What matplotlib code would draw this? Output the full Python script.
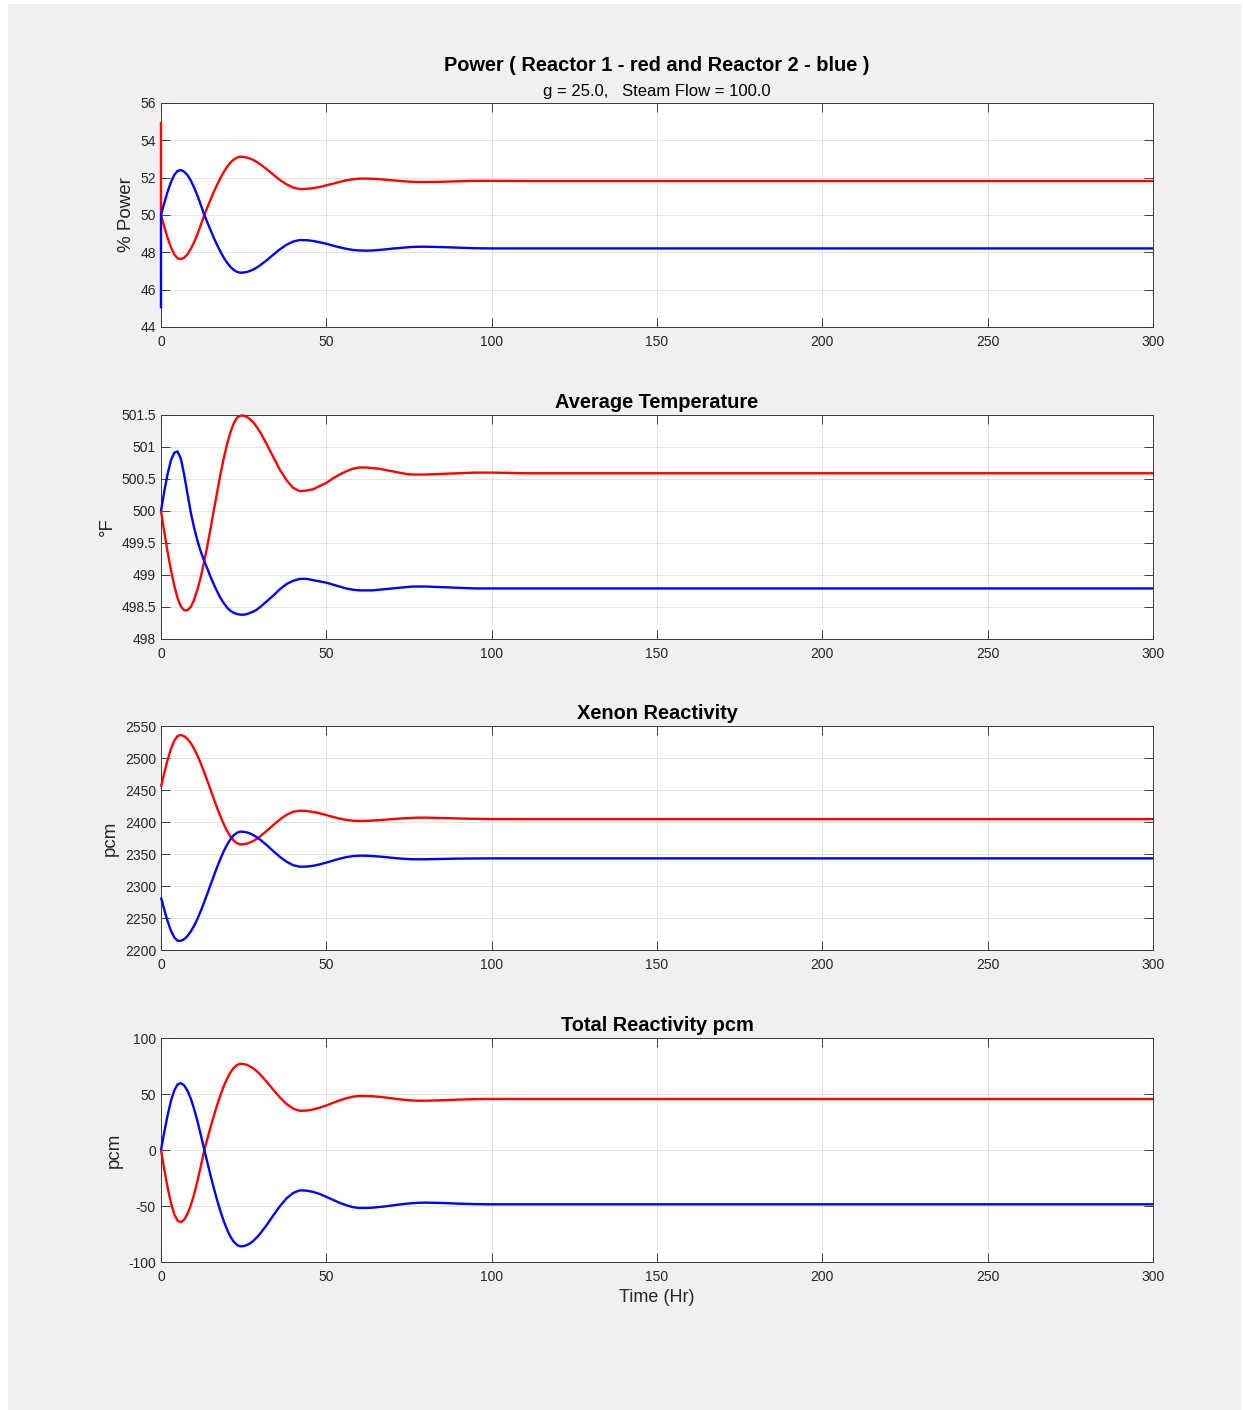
import matplotlib
matplotlib.use("Agg")
import matplotlib.pyplot as plt
from matplotlib.patches import Rectangle

plt.rcParams['font.family'] = ['Liberation Sans', 'DejaVu Sans']

# ---- simulation output (hours) ----
hours = [0, 1, 2, 3, 4, 5, 6, 7, 8, 9, 10, 11, 12, 13, 14, 15, 16, 17, 18, 19,
         20, 21, 22, 23, 24, 25, 26, 27, 28, 29, 30, 32, 34, 36, 38, 40, 42, 44,
         46, 48, 50, 52, 54, 56, 58, 60, 62, 64, 66, 68, 70, 72, 74, 76, 78, 80,
         85, 90, 95, 100, 110, 150, 200, 250, 300]

# initial power step at t = 0 (before the first solver step)
power_start_red = 55.0
power_start_blue = 45.0

power_red = [50.00, 49.36, 48.77, 48.27, 47.90, 47.68, 47.64, 47.71, 47.90, 48.18,
             48.54, 48.97, 49.45, 49.95, 50.40, 50.83, 51.25, 51.64, 51.99, 52.31,
             52.58, 52.81, 52.97, 53.08, 53.12, 53.11, 53.08, 53.02, 52.94, 52.84,
             52.72, 52.45, 52.16, 51.87, 51.64, 51.47, 51.39, 51.40, 51.44, 51.50,
             51.59, 51.68, 51.77, 51.86, 51.91, 51.95, 51.95, 51.94, 51.92, 51.89,
             51.86, 51.83, 51.80, 51.78, 51.77, 51.77, 51.78, 51.81, 51.83, 51.83,
             51.82, 51.82, 51.82, 51.82, 51.82]
power_blue = [50.00, 50.65, 51.25, 51.76, 52.14, 52.36, 52.41, 52.32, 52.14, 51.85,
              51.48, 51.05, 50.56, 50.05, 49.61, 49.18, 48.77, 48.38, 48.03, 47.71,
              47.44, 47.22, 47.06, 46.95, 46.91, 46.92, 46.95, 47.01, 47.09, 47.19,
              47.31, 47.58, 47.88, 48.17, 48.41, 48.58, 48.66, 48.65, 48.61, 48.54,
              48.46, 48.36, 48.27, 48.19, 48.13, 48.10, 48.09, 48.10, 48.13, 48.16,
              48.20, 48.23, 48.26, 48.29, 48.30, 48.30, 48.28, 48.25, 48.22, 48.21,
              48.21, 48.21, 48.21, 48.21, 48.21]

temp_red = [500.00, 499.67, 499.36, 499.08, 498.84, 498.64, 498.51, 498.45, 498.45, 498.50,
            498.61, 498.77, 498.96, 499.20, 499.45, 499.73, 500.02, 500.30, 500.58, 500.83,
            501.05, 501.23, 501.37, 501.46, 501.49, 501.49, 501.47, 501.43, 501.38, 501.31,
            501.23, 501.04, 500.84, 500.64, 500.48, 500.36, 500.31, 500.32, 500.34, 500.39,
            500.44, 500.51, 500.57, 500.62, 500.66, 500.68, 500.68, 500.67, 500.66, 500.64,
            500.62, 500.60, 500.58, 500.57, 500.57, 500.57, 500.58, 500.59, 500.60, 500.60,
            500.59, 500.59, 500.59, 500.59, 500.59]
temp_blue = [500.00, 500.31, 500.58, 500.79, 500.91, 500.93, 500.82, 500.57, 500.27, 499.98,
             499.74, 499.54, 499.37, 499.23, 499.10, 498.97, 498.85, 498.74, 498.64, 498.56,
             498.49, 498.44, 498.41, 498.39, 498.38, 498.38, 498.39, 498.41, 498.43, 498.46,
             498.50, 498.59, 498.68, 498.78, 498.86, 498.91, 498.94, 498.94, 498.92, 498.90,
             498.88, 498.85, 498.82, 498.79, 498.77, 498.76, 498.76, 498.76, 498.77, 498.78,
             498.79, 498.80, 498.81, 498.82, 498.82, 498.82, 498.81, 498.80, 498.79, 498.79,
             498.79, 498.79, 498.79, 498.79, 498.79]

xenon_red = [2455.0, 2476.9, 2497.1, 2514.2, 2526.9, 2534.3, 2536.0, 2534.0, 2529.8, 2523.3,
             2514.5, 2504.0, 2491.9, 2478.7, 2464.6, 2450.2, 2435.6, 2421.6, 2408.5, 2396.4,
             2385.9, 2377.4, 2371.0, 2366.8, 2365.1, 2365.3, 2366.3, 2368.2, 2370.7, 2373.9,
             2377.6, 2386.3, 2395.5, 2404.2, 2411.4, 2416.1, 2417.7, 2417.2, 2415.7, 2413.6,
             2410.9, 2408.0, 2405.4, 2403.3, 2402.0, 2401.6, 2401.8, 2402.2, 2402.9, 2403.7,
             2404.5, 2405.3, 2406.0, 2406.5, 2406.8, 2406.8, 2406.3, 2405.5, 2405.0, 2404.6,
             2404.5, 2404.5, 2404.5, 2404.5, 2404.5]
xenon_blue = [2282.0, 2262.7, 2244.9, 2230.2, 2219.8, 2214.5, 2214.4, 2216.9, 2221.8, 2228.8,
              2237.8, 2248.5, 2260.6, 2273.8, 2287.8, 2302.1, 2316.3, 2330.0, 2342.9, 2354.6,
              2364.7, 2373.0, 2379.3, 2383.3, 2384.9, 2384.7, 2383.7, 2381.9, 2379.3, 2376.2,
              2372.4, 2363.8, 2354.3, 2345.4, 2337.8, 2332.5, 2330.1, 2330.3, 2331.6, 2333.8,
              2336.6, 2339.7, 2342.6, 2345.1, 2346.7, 2347.4, 2347.3, 2346.8, 2346.0, 2345.1,
              2344.0, 2343.1, 2342.3, 2341.8, 2341.7, 2341.8, 2342.3, 2342.8, 2343.0, 2343.2,
              2343.2, 2343.2, 2343.2, 2343.2, 2343.2]

total_red = [0.0, -17.4, -33.5, -47.1, -57.3, -63.1, -64.4, -62.2, -57.1, -49.5,
             -39.7, -28.0, -15.0, -1.4, 9.8, 20.5, 30.7, 40.3, 49.2, 57.1,
             63.8, 69.3, 73.3, 75.9, 77.0, 76.8, 76.0, 74.6, 72.7, 70.3,
             67.4, 60.8, 53.6, 46.8, 41.0, 36.9, 35.0, 35.2, 36.2, 37.8,
             39.8, 42.1, 44.3, 46.2, 47.6, 48.3, 48.2, 48.0, 47.5, 46.8,
             46.1, 45.3, 44.7, 44.2, 44.0, 44.0, 44.4, 45.0, 45.4, 45.6,
             45.5, 45.5, 45.5, 45.5, 45.5]
total_blue = [0.0, 16.1, 31.1, 43.7, 53.1, 58.5, 59.7, 57.7, 53.0, 45.9,
              36.8, 26.0, 13.9, 1.3, -10.9, -22.9, -34.3, -45.1, -55.0, -63.7,
              -71.2, -77.4, -81.9, -84.8, -86.0, -85.8, -84.8, -83.2, -80.9, -78.0,
              -74.6, -66.8, -58.2, -50.0, -43.1, -38.3, -36.0, -36.3, -37.4, -39.3,
              -41.8, -44.5, -47.1, -49.3, -51.0, -51.8, -51.7, -51.5, -50.9, -50.3,
              -49.5, -48.7, -48.0, -47.5, -47.1, -47.0, -47.3, -47.9, -48.3, -48.5,
              -48.5, -48.5, -48.5, -48.5, -48.5]

x_ticks = [0, 50, 100, 150, 200, 250, 300]
power_ticks = [44, 46, 48, 50, 52, 54, 56]
temp_ticks = [498, 498.5, 499, 499.5, 500, 500.5, 501, 501.5]
xenon_ticks = [2200, 2250, 2300, 2350, 2400, 2450, 2500, 2550]
total_ticks = [-100, -50, 0, 50, 100]

# ---- figure ----
W, H = 1243, 1410
fig = plt.figure(figsize=(W / 100, H / 100), dpi=100, facecolor='white')
fig.patches.append(Rectangle((8 / W, 0), (1241 - 8) / W, (1410 - 4) / H,
                             transform=fig.transFigure, facecolor='#f0f0f0',
                             edgecolor='none', zorder=-10))

LEFT, RIGHT = 161, 1153
TXT = '#262626'


def make_axes(top, bottom):
    ax = fig.add_axes([LEFT / W, 1 - bottom / H, (RIGHT - LEFT) / W, (bottom - top) / H])
    ax.set_facecolor('white')
    for s in ax.spines.values():
        s.set_color('#3a3a3a')
        s.set_linewidth(0.7)
    ax.tick_params(direction='in', length=6.5, width=0.6, top=True, right=True,
                   labelsize=10, colors=TXT)
    ax.tick_params(axis='y', pad=3.6)
    ax.tick_params(axis='x', pad=5.6)
    ax.grid(True, color='#e0e0e0', linewidth=0.6)
    ax.set_axisbelow(True)
    ax.set_xlim(0, 300)
    ax.set_xticks(x_ticks)
    ax.set_xticklabels([f'{v:g}' for v in x_ticks])
    return ax


def set_y(ax, ticks, label):
    ax.set_ylim(ticks[0], ticks[-1])
    ax.set_yticks(ticks)
    ax.set_yticklabels([f'{v:g}' for v in ticks])
    ax.set_ylabel(label, fontsize=13.5, color=TXT, labelpad=4)


def panel_title(ax, text):
    ax.text(0.5, 1.031, text, transform=ax.transAxes, ha='center', va='baseline',
            fontsize=14.4, fontweight='bold', color='black')


def curve(ax, x, y, color):
    ax.plot(x, y, color=color, lw=1.7, zorder=3, clip_on=False,
            solid_joinstyle='round', solid_capstyle='butt')


# Power
ax1 = make_axes(103, 327)
curve(ax1, [0] + hours, [power_start_red] + power_red, 'red')
curve(ax1, [0] + hours, [power_start_blue] + power_blue, 'blue')
set_y(ax1, power_ticks, '% Power')
ax1.text(0.5, 1.143, 'Power ( Reactor 1 - red and Reactor 2 - blue )', transform=ax1.transAxes,
         ha='center', va='baseline', fontsize=14.4, fontweight='bold', color='black')
ax1.text(0.5, 1.031, 'g = 25.0,   Steam Flow = 100.0', transform=ax1.transAxes,
         ha='center', va='baseline', fontsize=12, color='black')

# Average temperature
ax2 = make_axes(415, 639)
curve(ax2, hours, temp_red, 'red')
curve(ax2, hours, temp_blue, 'blue')
set_y(ax2, temp_ticks, '°F')
panel_title(ax2, 'Average Temperature')

# Xenon reactivity
ax3 = make_axes(726, 950)
curve(ax3, hours, xenon_red, 'red')
curve(ax3, hours, xenon_blue, 'blue')
set_y(ax3, xenon_ticks, 'pcm')
panel_title(ax3, 'Xenon Reactivity')

# Total reactivity
ax4 = make_axes(1038, 1262)
curve(ax4, hours, total_red, 'red')
curve(ax4, hours, total_blue, 'blue')
set_y(ax4, total_ticks, 'pcm')
panel_title(ax4, 'Total Reactivity pcm')
ax4.set_xlabel('Time (Hr)', fontsize=13, color=TXT, labelpad=4)

fig.savefig('out.png', dpi=100, facecolor=fig.get_facecolor())
